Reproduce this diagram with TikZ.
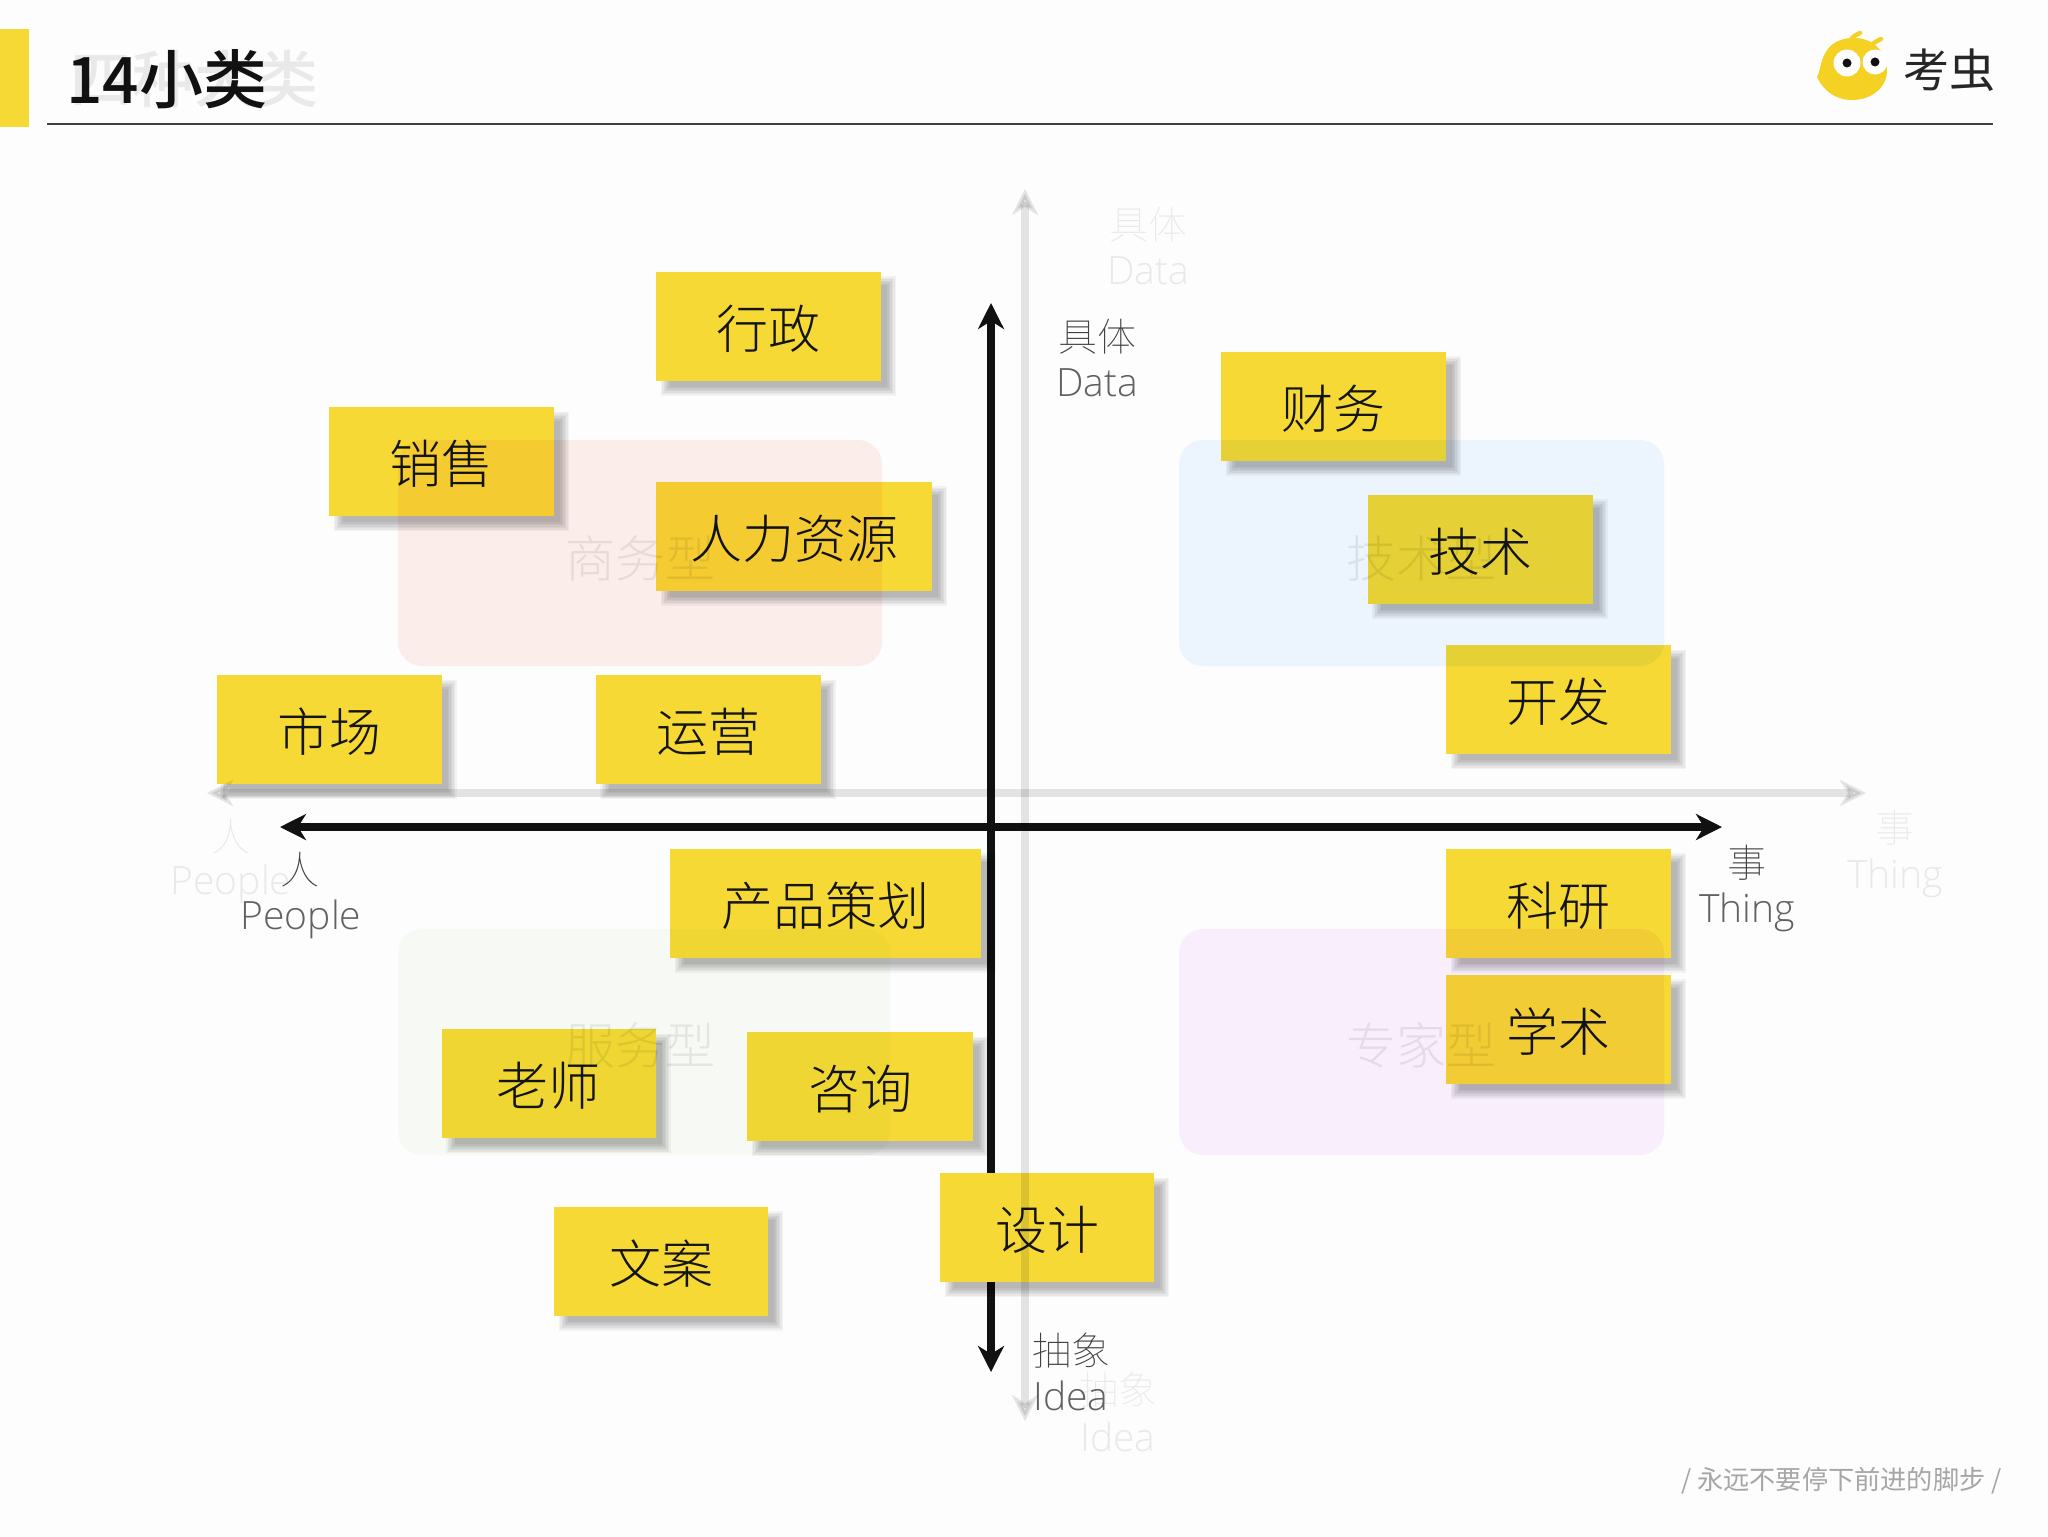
\documentclass[tikz,border=0pt]{standalone}
\usepackage{fontspec}
\usepackage{tikz}
\setmainfont{Noto Sans CJK SC}
\newfontfamily\notefont{Noto Sans CJK SC Light}
\newfontfamily\thinfont{Noto Sans CJK SC Thin}
\newfontfamily\latinfont{Open Sans Light}
\newfontfamily\titlefont{Noto Sans CJK SC Medium}
\usetikzlibrary{arrows.meta}
\definecolor{pagebg}{HTML}{FDFDFD}
\definecolor{noteyellow}{HTML}{F6D935}
\definecolor{axisblack}{HTML}{111111}
\definecolor{logoyellow}{HTML}{F4D122}
\definecolor{zonepink}{RGB}{253,239,236}
\definecolor{zoneblue}{RGB}{238,246,255}
\definecolor{zonegreen}{RGB}{249,252,246}
\definecolor{zonepurple}{RGB}{250,240,254}
\pgfdeclarelayer{axes}
\pgfdeclarelayer{shade}
\pgfsetlayers{axes,shade,main}
\tikzset{notebox/.style = {fill=noteyellow, inner sep=0, minimum height=54.5pt, minimum width=112.5pt,
                           text height=22.2pt, text depth=0pt,
                           font=\notefont\fontsize{26}{26}\selectfont, text=black!92},
         dropshade/.style = {fill=black, opacity=0.042},
         axislabel/.style = {align=center, inner sep=0},
         cjklabel/.style = {axislabel, text=black!75, font=\thinfont\fontsize{19.5}{19.5}\selectfont},
         wordlabel/.style = {axislabel, text=black!62, font=\latinfont\fontsize{19.5}{19.5}\selectfont},
         axisline/.style = {draw=axisblack, line width=4pt, {Stealth[length=13pt, width=13pt, inset=4pt]}-{Stealth[length=13pt, width=13pt, inset=4pt]}},
         ghostline/.style = {draw=black!10, line width=4pt, {Stealth[length=13pt, width=13pt, inset=4pt]}-{Stealth[length=13pt, width=13pt, inset=4pt]}},
         ghostzone/.style = {rounded corners=12pt},
         ghosttext/.style = {inner sep=0, text=black!8}}
\begin{document}
\begin{tikzpicture}[x=0.5pt, y=-0.5pt]
    \begin{pgfonlayer}{axes}
      \fill [pagebg] (0, 0) rectangle (2048, 1536);
    \end{pgfonlayer}
    \useasboundingbox (0, 0) rectangle (2048, 1536);
    % header
    \fill [noteyellow] (0, 29) rectangle (29, 127);
    \coordinate (ruleL) at (47, 124);
    \coordinate (ruleR) at (1993, 124);
    \draw [black!75, line width=1pt] (ruleL) -- (ruleR);
    \node (title) [anchor=west, inner sep=0, font=\titlefont\fontsize{32}{32}\selectfont, text=black!93] at (66, 79) {14小类};
    % logo
    \draw [logoyellow, line width=2.2pt, line cap=round] (1849, 44) .. controls (1852, 37) .. (1860, 33);
    \draw [logoyellow, line width=2.2pt, line cap=round] (1870, 48) .. controls (1873, 43) .. (1881, 39);
    \fill [logoyellow] (1817, 77) .. controls (1822, 70) and (1819, 38) .. (1854, 38)
      .. controls (1880, 38) and (1887, 60) .. (1887, 70)
      .. controls (1887, 88) and (1871, 100) .. (1852, 100)
      .. controls (1835, 100) and (1823, 90) .. (1817, 77) -- cycle;
    \fill [white] (1847, 63) circle [radius=13.5];
    \fill [white] (1875, 62) circle [radius=12.5];
    \fill [axisblack] (1847, 63) circle [radius=4.5];
    \fill [axisblack] (1875, 62) circle [radius=4.5];
    \node (logotext) [inner sep=0, font=\fontsize{23}{23}\selectfont, text=black!85] at (1949, 70) {考虫};
    % axes
    \begin{pgfonlayer}{axes}
      \coordinate (axisN) at (991, 303);
      \coordinate (axisS) at (991, 1372);
      \coordinate (axisW) at (280, 827);
      \coordinate (axisE) at (1722, 827);
      \draw [axisline] (axisN) -- (axisS);
      \draw [axisline] (axisW) -- (axisE);
    \end{pgfonlayer}
    \node (lblDataA) [cjklabel] at (1097, 337) {具体};
    \node (lblDataB) [wordlabel] at (1097, 383) {Data};
    \node (lblPeopleA) [cjklabel] at (300, 870) {人};
    \node (lblPeopleB) [wordlabel] at (301, 919) {People};
    \node (lblThingA) [cjklabel] at (1747, 863) {事};
    \node (lblThingB) [wordlabel] at (1747, 912) {Thing};
    \node (lblIdeaA) [cjklabel] at (1071, 1351) {抽象};
    \node (lblIdeaB) [wordlabel] at (1071, 1396) {Idea};
    % notes
    \node (admin) [notebox] at (768.5, 326) {行政};
    \node (sales) [notebox] at (441.5, 461.5) {销售};
    \node (hr) [notebox, minimum width=138pt] at (794, 536) {人力资源};
    \node (market) [notebox] at (329, 729.5) {市场};
    \node (ops) [notebox] at (708, 729.5) {运营};
    \node (finance) [notebox] at (1333.5, 406) {财务};
    \node (tech) [notebox] at (1480, 549) {技术};
    \node (dev) [notebox] at (1558.5, 699.5) {开发};
    \node (research) [notebox] at (1558.5, 903) {科研};
    \node (academic) [notebox] at (1558.5, 1029) {学术};
    \node (product) [notebox, minimum width=155.5pt] at (825.5, 903) {产品策划};
    \node (teacher) [notebox, minimum width=107pt] at (548.5, 1083.5) {老师};
    \node (consult) [notebox, minimum width=113pt] at (860, 1086.5) {咨询};
    \node (copywriter) [notebox, minimum width=107pt] at (661, 1261) {文案};
    \node (design) [notebox, minimum width=107pt] at (1047, 1227.5) {设计};
    \begin{pgfonlayer}{shade}
      \foreach \n in {admin, sales, hr, market, ops, finance, tech, dev, research, academic, product, teacher, consult, copywriter, design}
        \foreach \b in {2.5, 1.75, 1, 0.25, -0.5, -1.25, -2}
          \fill [dropshade] ([xshift=5pt-\b pt, yshift=-5pt+\b pt]\n.north west) rectangle ([xshift=5pt+\b pt, yshift=-5pt-\b pt]\n.south east);
    \end{pgfonlayer}
    % faint layer
    \begin{scope}[blend mode=multiply]
      \fill [ghostzone, fill=zonepink] (398, 440) rectangle (882, 666);
      \fill [ghostzone, fill=zoneblue] (1179, 440) rectangle (1664, 666);
      \fill [ghostzone, fill=zonegreen] (398, 929) rectangle (890, 1155);
      \fill [ghostzone, fill=zonepurple] (1179, 929) rectangle (1664, 1155);
      \coordinate (ghostN) at (1025, 189);
      \coordinate (ghostS) at (1025, 1421);
      \coordinate (ghostW) at (207, 793);
      \coordinate (ghostE) at (1866, 793);
      \draw [ghostline] (ghostN) -- (ghostS);
      \draw [ghostline] (ghostW) -- (ghostE);
      \node (zoneBiz) [ghosttext, font=\notefont\fontsize{25}{25}\selectfont] at (640, 558) {商务型};
      \node (zoneTech) [ghosttext, font=\notefont\fontsize{25}{25}\selectfont] at (1421, 558) {技术型};
      \node (zoneServ) [ghosttext, font=\notefont\fontsize{25}{25}\selectfont] at (640, 1045) {服务型};
      \node (zoneExp) [ghosttext, font=\notefont\fontsize{25}{25}\selectfont] at (1421, 1045) {专家型};
      \node (ghostTitle) [ghosttext, anchor=west, font=\titlefont\fontsize{31}{31}\selectfont] at (70, 79) {四种大类};
      \node (ghostDataA) [ghosttext, font=\thinfont\fontsize{19.5}{19.5}\selectfont] at (1148, 225) {具体};
      \node (ghostDataB) [ghosttext, font=\latinfont\fontsize{19.5}{19.5}\selectfont] at (1148, 271) {Data};
      \node (ghostPeopleA) [ghosttext, font=\thinfont\fontsize{19.5}{19.5}\selectfont] at (231, 837) {人};
      \node (ghostPeopleB) [ghosttext, font=\latinfont\fontsize{19.5}{19.5}\selectfont] at (231, 884) {People};
      \node (ghostThingA) [ghosttext, font=\thinfont\fontsize{19.5}{19.5}\selectfont] at (1895, 828) {事};
      \node (ghostThingB) [ghosttext, font=\latinfont\fontsize{19.5}{19.5}\selectfont] at (1895, 878) {Thing};
      \node (ghostIdeaA) [ghosttext, font=\thinfont\fontsize{19.5}{19.5}\selectfont] at (1118, 1390) {抽象};
      \node (ghostIdeaB) [ghosttext, font=\latinfont\fontsize{19.5}{19.5}\selectfont] at (1118, 1437) {Idea};
    \end{scope}
    % footer
    \node (motto) [anchor=east, inner sep=0, text=black!35, font=\fontsize{13.1}{13.1}\selectfont] at (2002, 1481) {/ 永远不要停下前进的脚步 /};
  \end{tikzpicture}
\end{document}
